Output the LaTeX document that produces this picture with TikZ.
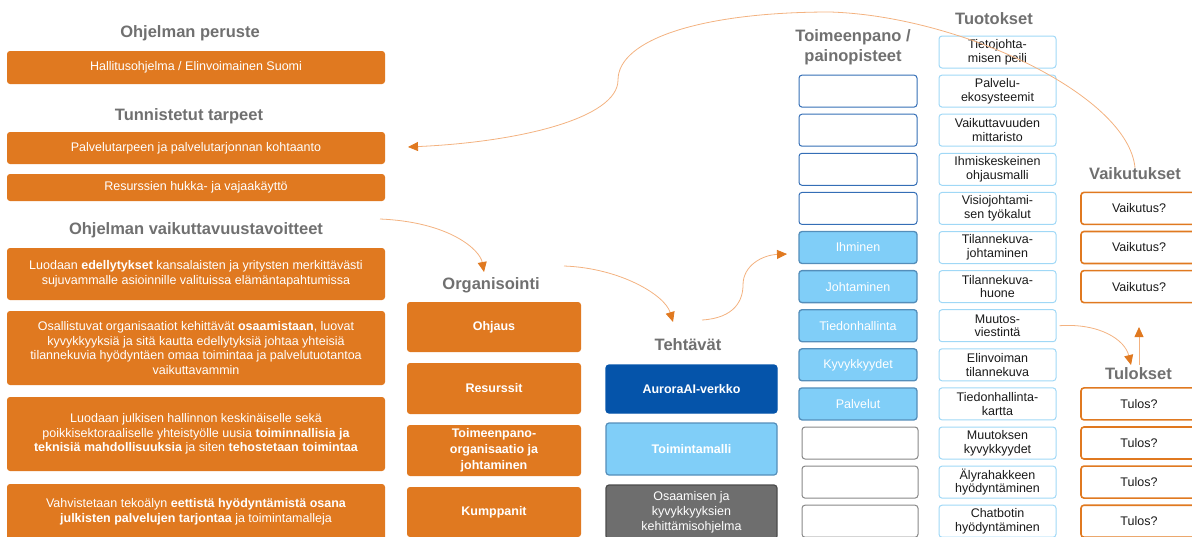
\documentclass[tikz,border=0pt]{standalone}
\usepackage{fontspec}
\setmainfont{Liberation Sans}
\usetikzlibrary{arrows.meta}

\begin{document}
\begin{tikzpicture}[x=1pt, y=-1pt,
	heading/.style={text=headgray, font=\fontsize{16.5}{19.5}\selectfont\bfseries, align=center, inner sep=0pt},
	goalbox/.style={fill=boxorange, rounded corners=3pt, text=white, align=center, inner sep=0pt, minimum width=378pt, font=\fontsize{12.5}{14.7}\selectfont},
	orgbox/.style={goalbox, minimum width=174pt, font=\fontsize{12.5}{16}\selectfont\bfseries},
	taskbox/.style={rounded corners=3pt, align=center, inner sep=0pt, minimum width=171pt, text=white, line width=1.2pt},
	rowbox/.style={rounded corners=3pt, align=center, inner sep=0pt, minimum height=32pt, line width=1pt, font=\fontsize{12.5}{13.7}\selectfont},
	tpempty/.style={rowbox, draw=tpblue, minimum width=118pt},
	tpfill/.style={rowbox, draw=tpedge, fill=tplight, text=white, minimum width=118pt, line width=1.3pt},
	tpgray/.style={rowbox, draw=emptygray, minimum width=116pt},
	tuotosbox/.style={rowbox, draw=tuoedge, minimum width=117pt, text=textblack},
	resultbox/.style={rowbox, draw=boxorange, minimum width=116pt, line width=1.6pt, text=textblack},
	link/.style={draw=linkorange, line width=0.8pt, -{Triangle[length=10pt, width=9pt, color=boxorange]}}
]
\definecolor{boxorange}{RGB}{224, 121, 32}
\definecolor{linkorange}{RGB}{243, 178, 128}
\definecolor{headgray}{RGB}{112, 112, 112}
\definecolor{textblack}{RGB}{25, 25, 25}
\definecolor{tpblue}{RGB}{52, 110, 182}
\definecolor{tpedge}{RGB}{84, 142, 186}
\definecolor{tplight}{RGB}{128, 206, 248}
\definecolor{emptygray}{RGB}{135, 135, 135}
\definecolor{tuoedge}{RGB}{160, 216, 246}
\definecolor{aurora}{RGB}{5, 84, 170}
\definecolor{taskgray}{RGB}{110, 110, 110}

\useasboundingbox (0,0) rectangle (1192,536);

% row centre of the right hand columns
\def\rowy#1{52 + 39.1 * #1}

% program basis
\node[heading] (perhd) at (190, 33) {Ohjelman peruste};
\node[goalbox, minimum height=33pt] (peruste) at (196, 67.5) {Hallitusohjelma / Elinvoimainen Suomi};

\node[heading] (tarhd) at (189, 116) {Tunnistetut tarpeet};
\node[goalbox, minimum height=32pt] (tarve1) at (196, 148) {Palvelutarpeen ja palvelutarjonnan kohtaanto};
\node[goalbox, minimum height=27pt] (tarve2) at (196, 187.5) {Resurssien hukka- ja vajaakäyttö};

% goals
\node[heading] (tavhd) at (196, 230) {Ohjelman vaikuttavuustavoitteet};
\node[goalbox, minimum height=52pt] (tav1) at (196, 274) {Luodaan \textbf{edellytykset} kansalaisten ja yritysten merkittävästi\\sujuvammalle asioinnille valituissa elämäntapahtumissa};
\node[goalbox, minimum height=74pt] (tav2) at (196, 348) {Osallistuvat organisaatiot kehittävät \textbf{osaamistaan}, luovat\\kyvykkyyksiä ja sitä kautta edellytyksiä johtaa yhteisiä\\tilannekuvia hyödyntäen omaa toimintaa ja palvelutuotantoa\\vaikuttavammin};
\node[goalbox, minimum height=74pt] (tav3) at (196, 434) {Luodaan julkisen hallinnon keskinäiselle sekä\\poikkisektoraaliselle yhteistyölle uusia \textbf{toiminnallisia ja}\\\textbf{teknisiä mahdollisuuksia} ja siten \textbf{tehostetaan toimintaa}};
\node[goalbox, minimum height=56pt] (tav4) at (196, 512) {Vahvistetaan tekoälyn \textbf{eettistä hyödyntämistä osana}\\\textbf{julkisten palvelujen tarjontaa} ja toimintamalleja};

% organisation
\node[heading] (orghd) at (491, 285) {Organisointi};
\node[orgbox, minimum height=50pt] (ohjaus) at (494, 327) {Ohjaus};
\node[orgbox, minimum height=51pt] (resurssit) at (494, 388.5) {Resurssit};
\node[orgbox, minimum height=51pt] (toimorg) at (494, 450.5) {Toimeenpano-\\organisaatio ja\\johtaminen};
\node[orgbox, minimum height=50pt] (kumppanit) at (494, 512) {Kumppanit};

% tasks
\node[heading] (tehhd) at (688, 345) {Tehtävät};
\node[taskbox, fill=aurora, draw=aurora, minimum height=48pt, font=\fontsize{12.5}{15}\selectfont\bfseries] (aurora) at (691.5, 389) {AuroraAI-verkko};
\node[taskbox, fill=tplight, draw=tpedge, minimum height=52pt, font=\fontsize{12.5}{15}\selectfont\bfseries] (toimmalli) at (691.5, 449) {Toimintamalli};
\node[taskbox, fill=taskgray, draw=black!70, minimum height=54pt, font=\fontsize{12.5}{15}\selectfont] (osaaminen) at (691.5, 512) {Osaamisen ja\\kyvykkyyksien\\kehittämisohjelma};

% implementation
\node[heading] (tphd) at (853, 47) {Toimeenpano /\\painopisteet};
\foreach \r in {1,...,4}
	\node[tpempty] (tp\r) at (858, \rowy{\r}) {};
\foreach \r/\t in {5/Ihminen, 6/Johtaminen, 7/Tiedonhallinta, 8/Kyvykkyydet, 9/Palvelut}
	\node[tpfill] (tp\r) at (858, \rowy{\r}) {\t};
\foreach \r in {10,11,12}
	\node[tpgray] (tp\r) at (860, \rowy{\r}) {};

% outputs
\node[heading] (tuohd) at (994, 19) {Tuotokset};
\foreach \r/\t in {0/{Tietojohta-\\misen peili}, 1/{Palvelu-\\ekosysteemit}, 2/{Vaikuttavuuden\\mittaristo},
		3/{Ihmiskeskeinen\\ohjausmalli}, 4/{Visiojohtami-\\sen työkalut}, 5/{Tilannekuva-\\johtaminen},
		6/{Tilannekuva-\\huone}, 7/{Muutos-\\viestintä}, 8/{Elinvoiman\\tilannekuva},
		9/{Tiedonhallinta-\\kartta}, 10/{Muutoksen\\kyvykkyydet}, 11/{Älyrahakkeen\\hyödyntäminen},
		12/{Chatbotin\\hyödyntäminen}}
	\node[tuotosbox] (tu\r) at (997.5, \rowy{\r}) {\t};

% impacts and results
\node[heading] (vhd) at (1135, 174) {Vaikutukset};
\foreach \r in {4,5,6}
	\node[resultbox] (vk\r) at (1139, \rowy{\r}) {Vaikutus?};
\node[heading] (tulhd) at (1138.5, 374) {Tulokset};
\foreach \r in {9,...,12}
	\node[resultbox] (tl\r) at (1139, \rowy{\r}) {Tulos?};

% connections
\coordinate (backend) at (408, 147);
\coordinate (goalstart) at (380, 219);
\coordinate (orgend) at (484, 272);
\coordinate (orgstart) at (564, 266);
\coordinate (taskend) at (673, 322);
\coordinate (taskstart) at (702, 320);
\coordinate (tpend) at (787, 254);
\coordinate (resend) at (1131, 365);
\coordinate (upend) at (1139, 327);

\draw[link] (vhd.north) .. controls (1128, 95) and (960, 16) .. (830, 12)
	.. controls (700, 12) and (618, 40) .. (618, 80)
	.. controls (618, 118) and (520, 142) .. (backend);
\draw[link] (goalstart) .. controls (450, 222) and (480, 250) .. (orgend);
\draw[link] (orgstart) .. controls (620, 268) and (665, 295) .. (taskend);
\draw[link] (taskstart) .. controls (735, 318) and (743, 300) .. (743, 285)
	.. controls (743, 265) and (763, 255) .. (tpend);
\draw[link] (tu7.east) ++(3, 0) .. controls (1100, 323) and (1125, 340) .. (resend);
\draw[link] (tulhd.north) ++(0.5, -3) -- (upend);
\end{tikzpicture}
\end{document}
